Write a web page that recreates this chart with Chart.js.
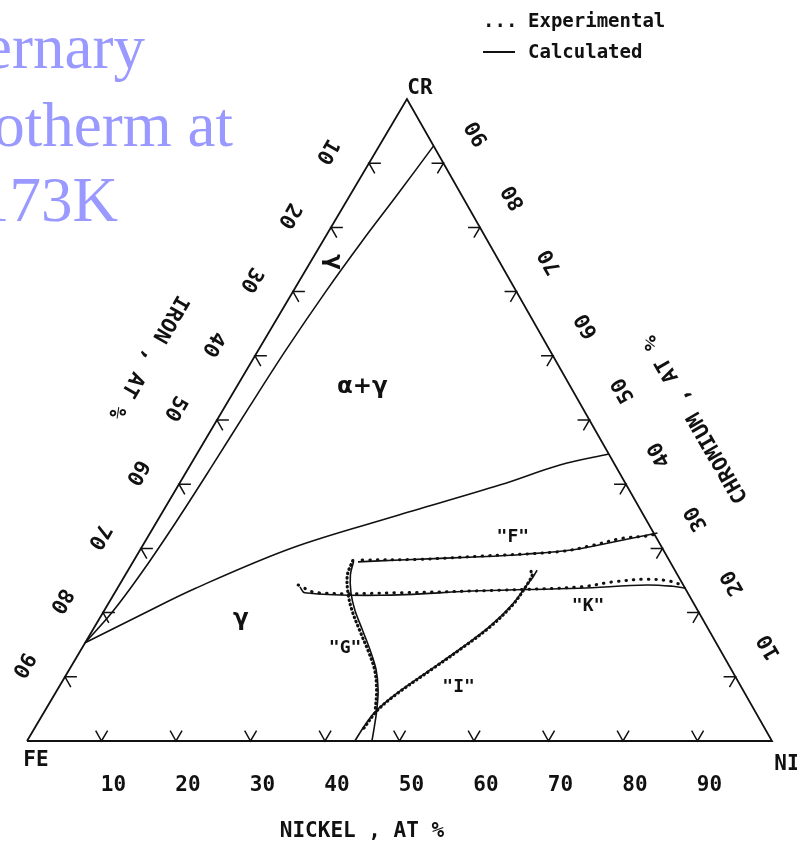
<!DOCTYPE html>
<html>
<head>
<meta charset="utf-8">
<title>Fe-Cr-Ni isotherm</title>
<script src="https://cdn.jsdelivr.net/npm/chart.js@4.4.0/dist/chart.umd.min.js"></script>
<style>
  html, body { margin: 0; padding: 0; background: #fff; }
  #wrap { width: 797px; height: 845px; }
</style>
</head>
<body>
<div id="wrap"><canvas id="ternary" width="797" height="845"></canvas></div>
<script>
// every composition below is [Ni at%, Cr at%]; Fe is the balance
const tickValues = [10, 20, 30, 40, 50, 60, 70, 80, 90];
const tickLabels = ['10', '20', '30', '40', '50', '60', '70', '80', '90'];

const frame = [[0, 0], [100, 0], [0, 100], [0, 0]];

// phase boundaries (calculated)
const alphaBoundary = [[7.3, 92.7], [6.3, 85.0], [5.3, 78.0], [4.4, 70.0], [3.7, 61.0],
  [3.3, 52.0], [3.0, 43.0], [2.6, 34.0], [2.0, 26.0], [1.2, 20.0], [0, 15.3]];
const gammaBoundary = [[0, 15.3], [5.2, 19.6], [10.5, 23.8], [20.3, 30.1], [31.5, 35.0],
  [43.2, 39.9], [49.6, 43.0], [55.3, 44.7]];

// diffusion paths, calculated
const pathFCalc = [[30.2, 27.9], [35.7, 28.2], [46.2, 28.7], [52.0, 29.1], [58.1, 29.8],
  [62.9, 31.0], [68.1, 32.4]];
const pathKCalc = [[24.4, 24.0], [25.5, 23.1], [35.8, 22.7], [48.9, 23.4], [62.0, 23.8],
  [70.8, 24.3], [74.4, 24.1], [76.3, 23.8]];
const pathGCalc = [[29.6, 27.9], [30.2, 25.9], [31.7, 23.1], [33.6, 20.4], [36.2, 17.3],
  [38.8, 14.2], [41.2, 11.1], [43.1, 7.9], [44.5, 4.8], [45.5, 2.2], [46.3, 0]];
const pathICalc = [[44.0, 0], [44.1, 2.5], [44.5, 4.8], [45.9, 7.5], [48.5, 11.1],
  [51.0, 14.6], [53.0, 17.8], [54.3, 21.3], [54.7, 24.3], [54.9, 25.5], [54.9, 26.6]];

// diffusion paths, experimental
const pathFExp = [[30.6, 28.2], [38.3, 28.3], [46.2, 28.8], [56.5, 29.5], [60.1, 30.4],
  [63.9, 31.6], [66.7, 31.9], [67.9, 32.2]];
const pathKExp = [[24.0, 24.3], [27.1, 23.1], [38.3, 23.1], [51.5, 23.5], [62.0, 24.0],
  [66.1, 24.8], [70.3, 25.2], [73.6, 24.9], [76.0, 24.1]];
const pathGExp = [[29.4, 28.1], [29.8, 25.9], [31.3, 23.1], [33.2, 20.4], [35.8, 17.3],
  [38.5, 14.2], [41.0, 11.1], [42.9, 7.9], [44.3, 4.8]];
const pathIExp = [[44.2, 2.0], [44.6, 4.8], [46.0, 7.5], [48.6, 11.1], [51.1, 14.6],
  [53.1, 17.8], [54.4, 21.3], [54.7, 24.3], [54.6, 26.0], [54.2, 26.4]];

// [text, Ni, Cr] labels placed inside the triangle
const pathNames = [['"F"', 49.0, 31.8], ['"K"', 64.6, 21.0], ['"G"', 35.3, 14.5], ['"I"', 53.7, 8.3]];

const H = Math.sqrt(3) / 2;
const SKEW = 0.51;
const toXY = ([ni, cr]) => ({ x: ni + cr * SKEW, y: cr * H });

const INK = '#111';
const MONO = '"DejaVu Sans Mono", monospace';

function line(data, extra) {
  return Object.assign({
    data: data.map(toXY),
    showLine: true,
    borderColor: INK,
    borderWidth: 1.6,
    pointRadius: 0,
    fill: false,
    tension: 0.35
  }, extra || {});
}
const dotted = { borderWidth: 3, borderDash: [0.5, 7], borderCapStyle: 'round' };
const denseDots = { borderWidth: 3.2, borderDash: [0.5, 4], borderCapStyle: 'round' };

const ternaryAxes = {
  id: 'ternaryAxes',
  afterDatasetsDraw(chart) {
    const ctx = chart.ctx;
    const sx = chart.scales.x, sy = chart.scales.y;
    const px = (ni, cr) => {
      const p = toXY([ni, cr]);
      return [sx.getPixelForValue(p.x), sy.getPixelForValue(p.y)];
    };
    const L = 1.6;

    function chevron(a, b, c) {
      ctx.beginPath();
      ctx.moveTo(a[0], a[1]);
      ctx.lineTo(b[0], b[1]);
      ctx.lineTo(c[0], c[1]);
      ctx.stroke();
    }
    function text(str, x, y, rot, font, align, color) {
      ctx.save();
      ctx.translate(x, y);
      ctx.rotate(rot * Math.PI / 180);
      ctx.font = font;
      ctx.fillStyle = color || INK;
      ctx.textAlign = align || 'center';
      ctx.textBaseline = 'middle';
      ctx.fillText(str, 0, 0);
      ctx.restore();
    }

    ctx.save();
    ctx.strokeStyle = INK;
    ctx.lineWidth = 1.5;
    const axisFont = 'bold 21px ' + MONO;
    tickValues.forEach((v, i) => {
      // nickel, along the base
      const b = px(v, 0);
      chevron(px(v - L, L), b, px(v, L));
      text(tickLabels[i], b[0] + 12, b[1] + 45, 0, axisFont);
      // iron, along the Fe-Cr side
      const l = px(0, 100 - v);
      chevron(px(L, 100 - v), l, px(L, 100 - v - L));
      text(tickLabels[i], l[0] - 42, l[1] - 12, 120, axisFont);
      // chromium, along the Ni-Cr side
      const r = px(100 - v, v);
      chevron(px(100 - v - L, v), r, px(100 - v, v - L));
      text(tickLabels[i], r[0] + 34, r[1] - 30, 240, axisFont);
    });

    // corners and axis titles
    const fe = px(0, 0), ni = px(100, 0), cr = px(0, 100);
    text('FE', fe[0] + 9, fe[1] + 20, 0, axisFont);
    text('NI', ni[0] + 15, ni[1] + 24, 0, axisFont);
    text('CR', cr[0] + 13, cr[1] - 10, 0, axisFont);
    text('NICKEL , AT %', 362, 832, 0, axisFont);
    text('IRON , AT %', 148, 357, 120, axisFont);
    text('CHROMIUM , AT %', 696, 419, 240, axisFont);

    // phase fields and path names
    const greek = 'bold 23px "DejaVu Sans", sans-serif';
    let p = px(16.9, 55.1);
    text('α+γ', p[0], p[1], 0, greek);
    p = px(3.0, 74.6);
    text('γ', p[0], p[1], 90, greek);
    p = px(19.0, 19.0);
    text('γ', p[0], p[1], 0, greek);
    pathNames.forEach(([s, n, c]) => {
      const q = px(n, c);
      text(s, q[0], q[1], 0, 'bold 18px ' + MONO);
    });

    // legend
    const legendFont = 'bold 19px ' + MONO;
    text('...', 483, 22, 0, legendFont, 'left');
    text('Experimental', 528, 22, 0, legendFont, 'left');
    ctx.beginPath();
    ctx.lineWidth = 2;
    ctx.moveTo(483, 52);
    ctx.lineTo(515, 52);
    ctx.stroke();
    text('Calculated', 528, 53, 0, legendFont, 'left');

    // heading, running off the left edge of the page
    ctx.font = '63px "Liberation Serif", "Times New Roman", serif';
    ctx.fillStyle = '#9999ff';
    ctx.textAlign = 'right';
    ctx.textBaseline = 'alphabetic';
    ctx.fillText('Ternary', 145, 68);
    ctx.fillText('Isotherm at', 233, 146);
    ctx.fillText('1173K', 118, 221);
    ctx.restore();
  }
};

// base of the triangle at y=741px, Fe corner x=27px, Ni corner x=772px, Cr apex y=99px
const pxPerX = (772 - 27) / 100;
const pxPerY = (741 - 99) / (100 * H);

new Chart(document.getElementById('ternary'), {
  type: 'scatter',
  data: {
    datasets: [
      line(frame, { tension: 0, borderWidth: 1.8 }),
      line(alphaBoundary),
      line(gammaBoundary),
      line(pathFCalc),
      line(pathKCalc),
      line(pathGCalc),
      line(pathICalc),
      line(pathFExp, dotted),
      line(pathKExp, dotted),
      line(pathGExp, denseDots),
      line(pathIExp, denseDots)
    ]
  },
  options: {
    responsive: false,
    animation: false,
    layout: { padding: 0 },
    scales: {
      x: { type: 'linear', display: false, min: -27 / pxPerX, max: (797 - 27) / pxPerX },
      y: { type: 'linear', display: false, min: -(845 - 741) / pxPerY, max: 741 / pxPerY }
    },
    plugins: {
      legend: { display: false },
      tooltip: { enabled: false },
      title: { display: false }
    }
  },
  plugins: [ternaryAxes]
});
</script>
</body>
</html>
